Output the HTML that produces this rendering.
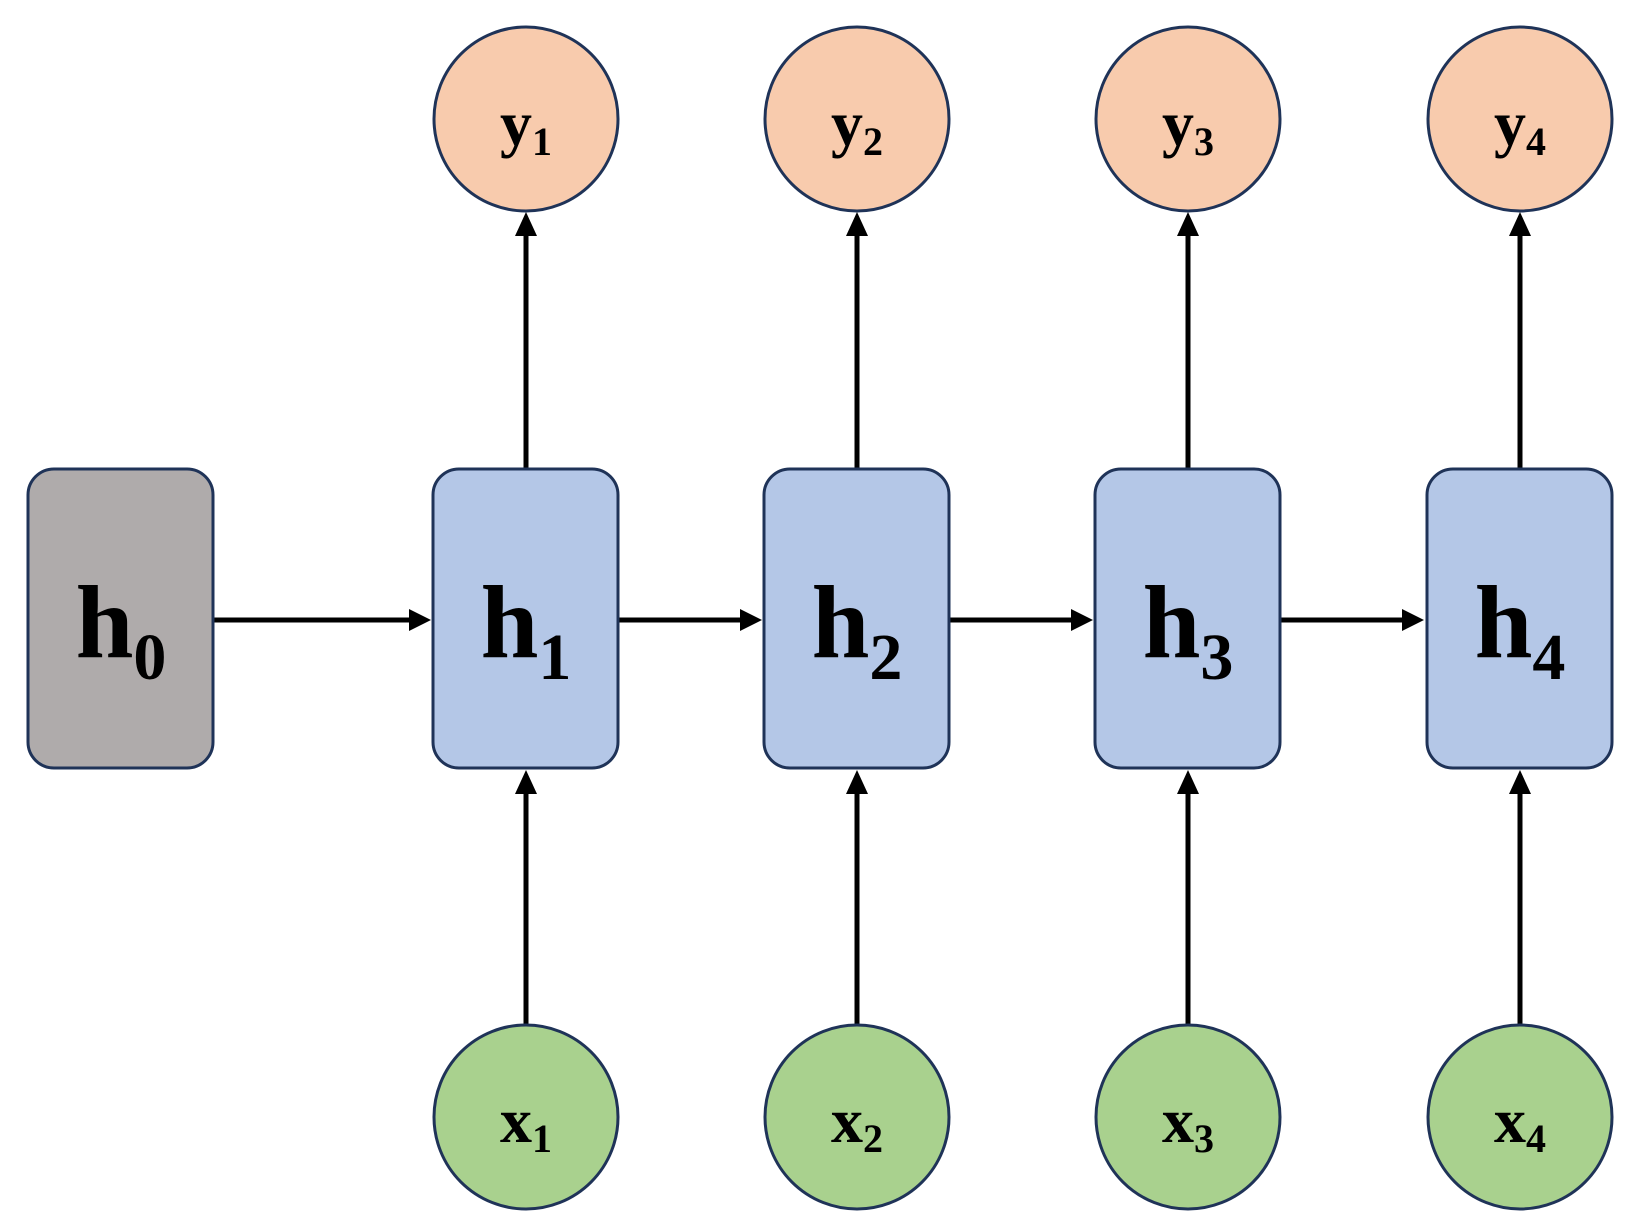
<!DOCTYPE html>
<html><head><meta charset="utf-8"><style>
html,body{margin:0;padding:0;background:#fff;}
svg{display:block;}
text{font-family:"Liberation Serif",serif;font-weight:bold;fill:#000;}
</style></head><body>
<svg width="1634" height="1225" viewBox="0 0 1634 1225" xmlns="http://www.w3.org/2000/svg">
<defs>
<marker id="a" markerWidth="8" markerHeight="8" refX="7" refY="4" orient="auto" markerUnits="userSpaceOnUse">
</marker>
</defs>
<g stroke="#000" stroke-width="5">
<line x1="213" y1="620" x2="415" y2="620"/>
<line x1="617" y1="620" x2="746" y2="620"/>
<line x1="948" y1="620" x2="1077" y2="620"/>
<line x1="1279" y1="620" x2="1408" y2="620"/>
</g>
<g fill="#000">
<polygon points="431,620 409,609 409,631"/>
<polygon points="762,620 740,609 740,631"/>
<polygon points="1093,620 1071,609 1071,631"/>
<polygon points="1424,620 1402,609 1402,631"/>
</g>
<g id="cols"></g>
<!-- columns -->
<g stroke="#000" stroke-width="5">
<line x1="526" y1="469" x2="526" y2="228"/><line x1="526" y1="1025" x2="526" y2="786"/>
<line x1="857" y1="469" x2="857" y2="228"/><line x1="857" y1="1025" x2="857" y2="786"/>
<line x1="1188" y1="469" x2="1188" y2="228"/><line x1="1188" y1="1025" x2="1188" y2="786"/>
<line x1="1520" y1="469" x2="1520" y2="228"/><line x1="1520" y1="1025" x2="1520" y2="786"/>
</g>
<g fill="#000">
<polygon points="526,212 515,236 537,236"/><polygon points="526,770 515,794 537,794"/>
<polygon points="857,212 846,236 868,236"/><polygon points="857,770 846,794 868,794"/>
<polygon points="1188,212 1177,236 1199,236"/><polygon points="1188,770 1177,794 1199,794"/>
<polygon points="1520,212 1509,236 1531,236"/><polygon points="1520,770 1509,794 1531,794"/>
</g>
<g stroke="#1f3358" stroke-width="3">
<rect x="28" y="469" width="185" height="299" rx="26" fill="#afabab"/>
<rect x="433" y="469" width="185" height="299" rx="26" fill="#b4c7e7"/>
<rect x="764" y="469" width="185" height="299" rx="26" fill="#b4c7e7"/>
<rect x="1095" y="469" width="185" height="299" rx="26" fill="#b4c7e7"/>
<rect x="1427" y="469" width="185" height="299" rx="26" fill="#b4c7e7"/>
<circle cx="526" cy="119" r="92" fill="#f8cbad"/>
<circle cx="857" cy="119" r="92" fill="#f8cbad"/>
<circle cx="1188" cy="119" r="92" fill="#f8cbad"/>
<circle cx="1520" cy="119" r="92" fill="#f8cbad"/>
<circle cx="526" cy="1117" r="92" fill="#a9d18e"/>
<circle cx="857" cy="1117" r="92" fill="#a9d18e"/>
<circle cx="1188" cy="1117" r="92" fill="#a9d18e"/>
<circle cx="1520" cy="1117" r="92" fill="#a9d18e"/>
</g>
<g text-anchor="middle">
<text x="121" y="657" font-size="104">h<tspan font-size="66" dy="22">0</tspan></text>
<text x="526" y="657" font-size="104">h<tspan font-size="66" dy="22">1</tspan></text>
<text x="857" y="657" font-size="104">h<tspan font-size="66" dy="22">2</tspan></text>
<text x="1188" y="657" font-size="104">h<tspan font-size="66" dy="22">3</tspan></text>
<text x="1520" y="657" font-size="104">h<tspan font-size="66" dy="22">4</tspan></text>
<text x="526" y="145" font-size="64">y<tspan font-size="40" dy="10">1</tspan></text>
<text x="857" y="145" font-size="64">y<tspan font-size="40" dy="10">2</tspan></text>
<text x="1188" y="145" font-size="64">y<tspan font-size="40" dy="10">3</tspan></text>
<text x="1520" y="145" font-size="64">y<tspan font-size="40" dy="10">4</tspan></text>
<text x="526" y="1142" font-size="64">x<tspan font-size="40" dy="10">1</tspan></text>
<text x="857" y="1142" font-size="64">x<tspan font-size="40" dy="10">2</tspan></text>
<text x="1188" y="1142" font-size="64">x<tspan font-size="40" dy="10">3</tspan></text>
<text x="1520" y="1142" font-size="64">x<tspan font-size="40" dy="10">4</tspan></text>
</g>
</svg>
</body></html>
